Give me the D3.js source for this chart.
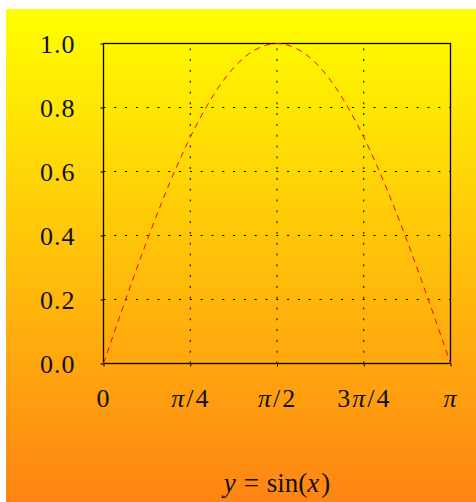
<!DOCTYPE html>
<html>
<head>
<meta charset="utf-8">
<script src="https://cdn.jsdelivr.net/npm/d3@7"></script>
<style>
  body { margin: 0; background: #fff; }
  text { font-family: "Liberation Serif", "DejaVu Serif", serif; fill: #111; }
</style>
</head>
<body>
<div id="chart"></div>
<script>
/**
 * CONSTANTS AND GLOBALS
 * */
const width = 476,
  height = 502,
  margin = { top: 43.5, bottom: 138.5, left: 103.5, right: 25.5 };

// data: y = sin(x) sampled at these x positions (multiples of pi/24)
const xSamples = [0, 1, 2, 3, 4, 5, 6, 7, 8, 9, 10, 11, 12, 13, 14, 15, 16, 17, 18, 19, 20, 21, 22, 23, 24];
const ySamples = [0.000, 0.131, 0.259, 0.383, 0.500, 0.609, 0.707, 0.793, 0.866, 0.924, 0.966, 0.991, 1.000,
  0.991, 0.966, 0.924, 0.866, 0.793, 0.707, 0.609, 0.500, 0.383, 0.259, 0.131, 0.000];
const xTicks = [0, 6, 12, 18, 24];
const xTickLabels = ["0", "π/4", "π/2", "3π/4", "π"];
const yTicks = [0, 0.2, 0.4, 0.6, 0.8, 1.0];

const svg = d3.select("#chart")
  .append("svg")
  .attr("width", width)
  .attr("height", height);

// orange background gradient
const grad = svg.append("defs").append("linearGradient")
  .attr("id", "bg")
  .attr("x1", 0).attr("y1", 0).attr("x2", 0).attr("y2", 1);
grad.append("stop").attr("offset", "0%").attr("stop-color", "#ffff00");
grad.append("stop").attr("offset", "100%").attr("stop-color", "#ff8414");

svg.append("rect")
  .attr("x", 6).attr("y", 9)
  .attr("width", width - 6).attr("height", height - 9)
  .attr("fill", "url(#bg)");

const x = d3.scaleLinear().domain([0, 24]).range([margin.left, width - margin.right]);
const y = d3.scaleLinear().domain([0, 1]).range([height - margin.bottom, margin.top]);

// grid lines
svg.append("g")
  .selectAll("line")
  .data(xTicks.slice(1, -1))
  .join("line")
  .attr("x1", d => x(d)).attr("x2", d => x(d))
  .attr("y1", y(0)).attr("y2", y(1))
  .attr("stroke", "#000")
  .attr("stroke-width", 1)
  .attr("stroke-dasharray", "2,8.8");

svg.append("g")
  .selectAll("line")
  .data(yTicks.slice(1, -1))
  .join("line")
  .attr("x1", x(0)).attr("x2", x(24))
  .attr("y1", d => y(d)).attr("y2", d => y(d))
  .attr("stroke", "#000")
  .attr("stroke-width", 1)
  .attr("stroke-dasharray", "2,8.8");

// axes
const xAxis = svg.append("g")
  .attr("transform", `translate(0,${y(0)})`)
  .call(d3.axisBottom(x).tickValues(xTicks).tickSize(3).tickPadding(22)
    .tickFormat((d, i) => xTickLabels[i]));

const yAxis = svg.append("g")
  .attr("transform", `translate(${x(0)},0)`)
  .call(d3.axisLeft(y).tickValues(yTicks).tickSize(3).tickPadding(25)
    .tickFormat(d3.format(".1f")));

[xAxis, yAxis].forEach(g => {
  g.select(".domain").remove();
  g.selectAll(".tick line").attr("stroke", "#000");
  g.selectAll(".tick text")
    .attr("font-family", "Liberation Serif, serif")
    .attr("font-size", 26)
    .attr("fill", "#111");
});
yAxis.selectAll(".tick text").attr("dy", "0.34em").attr("letter-spacing", 1);

// pi labels in italic, a bit wider like the TeX font
xAxis.selectAll(".tick text")
  .attr("letter-spacing", 2)
  .each(function (d, i) {
    const t = d3.select(this);
    const label = xTickLabels[i];
    t.text(null);
    label.split("").forEach(ch => {
      t.append("tspan")
        .attr("font-style", ch === "π" ? "italic" : "normal")
        .text(ch);
    });
  });

// frame
svg.append("rect")
  .attr("x", x(0)).attr("y", y(1))
  .attr("width", x(24) - x(0)).attr("height", y(0) - y(1))
  .attr("fill", "none")
  .attr("stroke", "#000")
  .attr("stroke-width", 1.3);

// the curve
const line = d3.line()
  .x((d, i) => x(xSamples[i]))
  .y(d => y(d))
  .curve(d3.curveMonotoneX);

svg.append("path")
  .datum(ySamples)
  .attr("d", line)
  .attr("fill", "none")
  .attr("stroke", "#ff0000")
  .attr("stroke-width", 1)
  .attr("stroke-dasharray", "6,5");

// title
const tt = svg.append("text")
  .attr("x", (x(0) + x(24)) / 2)
  .attr("y", 492)
  .attr("text-anchor", "middle")
  .attr("font-size", 27);
tt.append("tspan").attr("font-style", "italic").text("y");
tt.append("tspan").attr("dx", 8).text("=");
tt.append("tspan").attr("dx", 8).text("sin(");
tt.append("tspan").attr("font-style", "italic").text("x");
tt.append("tspan").attr("dx", 2).text(")");
</script>
</body>
</html>
